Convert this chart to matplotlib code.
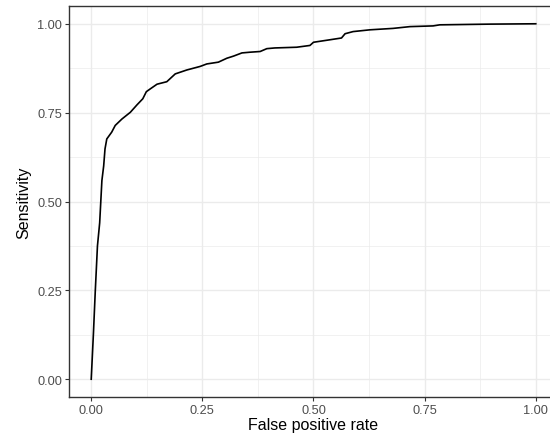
import numpy as np
import matplotlib
matplotlib.use('Agg')
import matplotlib.pyplot as plt

plt.rcParams['font.family'] = ['Liberation Sans', 'DejaVu Sans']

# ROC curve
fpr = [0.0, 0.005, 0.009, 0.014, 0.019, 0.024, 0.028, 0.031, 0.035, 0.046, 0.054,
       0.069, 0.088, 0.103, 0.116, 0.124, 0.133, 0.148, 0.170, 0.189, 0.215,
       0.245, 0.260, 0.286, 0.305, 0.320, 0.339, 0.357, 0.380, 0.395, 0.413,
       0.462, 0.492, 0.500, 0.537, 0.563, 0.571, 0.589, 0.627, 0.679, 0.717,
       0.769, 0.784, 0.897, 1.0]
sens = [0.0, 0.13, 0.245, 0.375, 0.44, 0.559, 0.60, 0.648, 0.676, 0.695, 0.714,
        0.732, 0.751, 0.772, 0.789, 0.809, 0.817, 0.83, 0.837, 0.859, 0.870,
        0.880, 0.887, 0.892, 0.903, 0.909, 0.918, 0.920, 0.922, 0.930, 0.932,
        0.934, 0.939, 0.948, 0.955, 0.960, 0.972, 0.978, 0.983, 0.987, 0.992,
        0.994, 0.997, 0.999, 1.0]
ticks = [0.0, 0.25, 0.5, 0.75, 1.0]
tick_labels = ['0.00', '0.25', '0.50', '0.75', '1.00']

fig = plt.figure(figsize=(5.5, 4.39), dpi=100)
# panel runs past the right edge of the picture, like the reference
ax = fig.add_axes([69 / 550, 41 / 439, 489 / 550, 391 / 439])

ax.plot(fpr, sens, color='black', lw=1.2, zorder=3)

ax.set_xlim(-0.05, 1.05)
ax.set_ylim(-0.05, 1.05)
ax.set_xticks(ticks)
ax.set_xticklabels(tick_labels)
ax.set_yticks(ticks)
ax.set_yticklabels(tick_labels)
ax.set_xticks([0.125, 0.375, 0.625, 0.875], minor=True)
ax.set_yticks([0.125, 0.375, 0.625, 0.875], minor=True)
ax.grid(True, which='major', color='#EBEBEB', lw=1.0)
ax.grid(True, which='minor', color='#EBEBEB', lw=0.5)
ax.set_axisbelow(True)
ax.tick_params(which='minor', length=0)
ax.tick_params(which='major', length=3, width=0.8, color='#333333',
               labelcolor='#4D4D4D', labelsize=9.2, pad=2)
for s in ax.spines.values():
    s.set_color('#333333')
    s.set_linewidth(1.0)
ax.spines['right'].set_visible(False)

ax.set_xlabel('False positive rate', fontsize=11.5, labelpad=1)
ax.set_ylabel('Sensitivity', fontsize=11.5, labelpad=4)

fig.savefig('out.png', dpi=100)
